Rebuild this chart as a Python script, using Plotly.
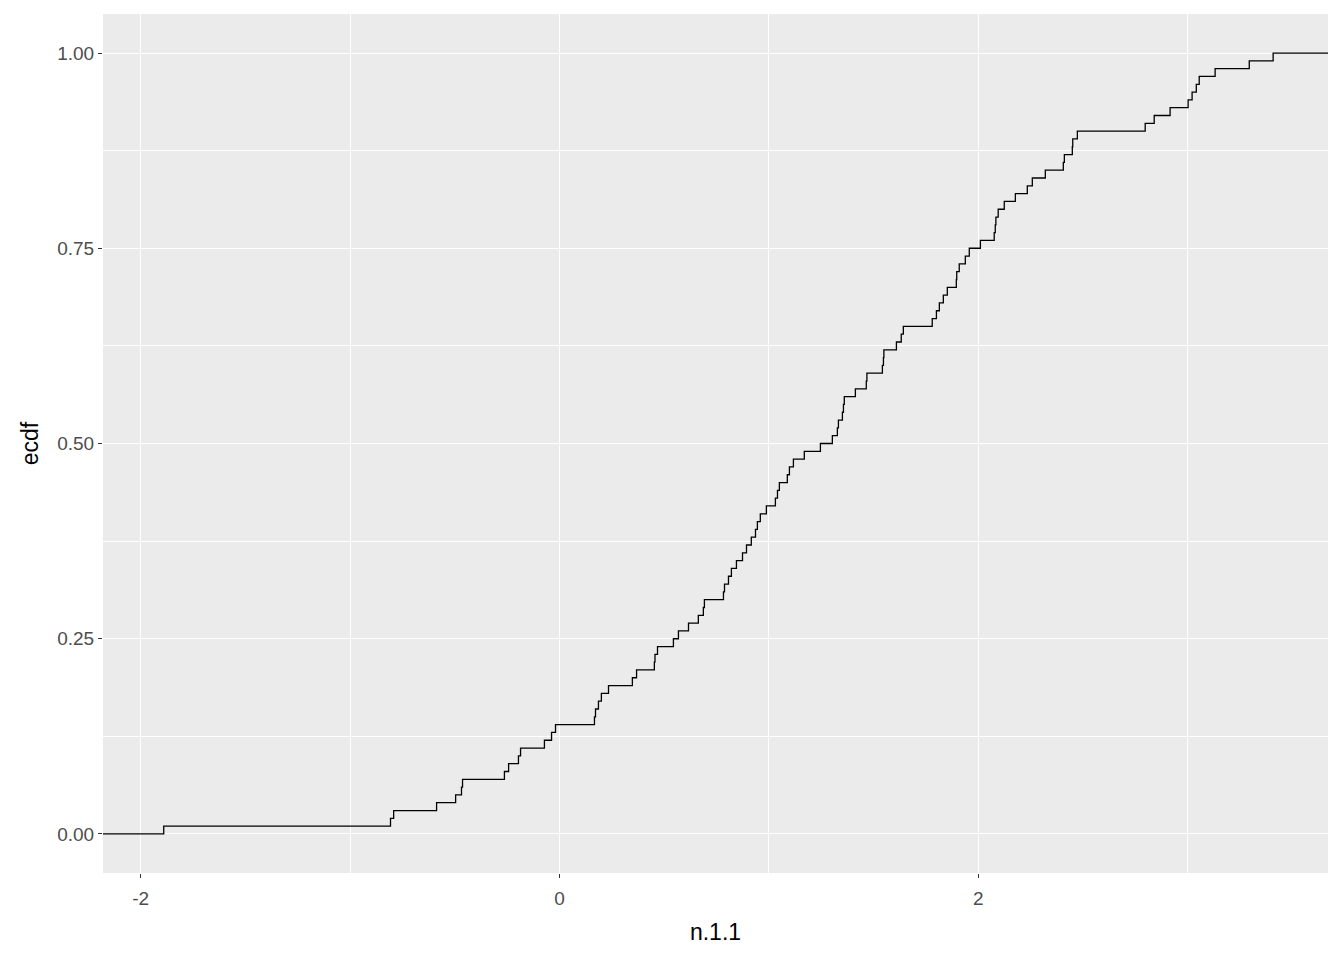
import numpy as np
import plotly.graph_objects as go

# Sample values (sorted)
n_1_1 = [
    -1.890, -0.807, -0.792, -0.587, -0.496, -0.468, -0.463, -0.263, -0.243, -0.196,
    -0.186, -0.072, -0.038, -0.019, 0.167, 0.172, 0.186, 0.200, 0.234, 0.348,
    0.368, 0.453, 0.456, 0.468, 0.544, 0.568, 0.616, 0.663, 0.687, 0.692,
    0.783, 0.788, 0.807, 0.821, 0.845, 0.874, 0.893, 0.916, 0.936, 0.945,
    0.959, 0.988, 1.031, 1.041, 1.050, 1.088, 1.098, 1.117, 1.169, 1.246,
    1.303, 1.327, 1.332, 1.351, 1.356, 1.360, 1.413, 1.465, 1.468, 1.542,
    1.547, 1.549, 1.609, 1.632, 1.642, 1.780, 1.800, 1.814, 1.833, 1.852,
    1.895, 1.897, 1.909, 1.938, 1.957, 2.010, 2.076, 2.081, 2.084, 2.095,
    2.124, 2.177, 2.234, 2.258, 2.320, 2.406, 2.411, 2.449, 2.451, 2.473,
    2.797, 2.840, 2.916, 3.002, 3.021, 3.041, 3.055, 3.131, 3.294, 3.408,
]
x_ticks = [-2, 0, 2]
y_ticks = [0.0, 0.25, 0.5, 0.75, 1.0]
x_range = [-2.18, 3.67]   # axis limits
y_range = [-0.05, 1.05]

xs = np.sort(np.array(n_1_1))
n = len(xs)
ecdf = np.arange(1, n + 1) / n

line_x = np.concatenate([[x_range[0]], xs, [x_range[1]]])
line_y = np.concatenate([[0.0], ecdf, [1.0]])

FONT = "Liberation Sans, Arial, sans-serif"

fig = go.Figure()
fig.add_trace(go.Scatter(
    x=line_x, y=line_y, mode="lines", line_shape="hv",
    line=dict(color="black", width=1.3), showlegend=False, hoverinfo="skip",
))

axis_common = dict(
    showline=False, zeroline=False,
    gridcolor="white", gridwidth=1.4,
    ticks="outside", ticklen=4, tickwidth=1, tickcolor="#333333",
    tickfont=dict(family=FONT, size=19, color="#4D4D4D"),
)

fig.update_xaxes(
    range=x_range, tickvals=x_ticks, ticktext=[str(v) for v in x_ticks],
    ticklabelstandoff=4,
    minor=dict(showgrid=True, gridcolor="white", gridwidth=0.7, dtick=1, tick0=0, ticks=""),
    title=dict(text="n.1.1", font=dict(family=FONT, size=23, color="black"), standoff=16),
    **axis_common,
)
fig.update_yaxes(
    range=y_range, tickvals=y_ticks, ticktext=[f"{v:.2f}" for v in y_ticks],
    minor=dict(showgrid=True, gridcolor="white", gridwidth=0.7, dtick=0.125, tick0=0, ticks=""),
    title=dict(text="ecdf", font=dict(family=FONT, size=23, color="black"), standoff=12),
    **axis_common,
)

fig.update_layout(
    width=1344, height=960,
    margin=dict(l=95, r=24, t=6, b=95),
    plot_bgcolor="#EBEBEB", paper_bgcolor="white",
)

fig.write_html("out.html")
